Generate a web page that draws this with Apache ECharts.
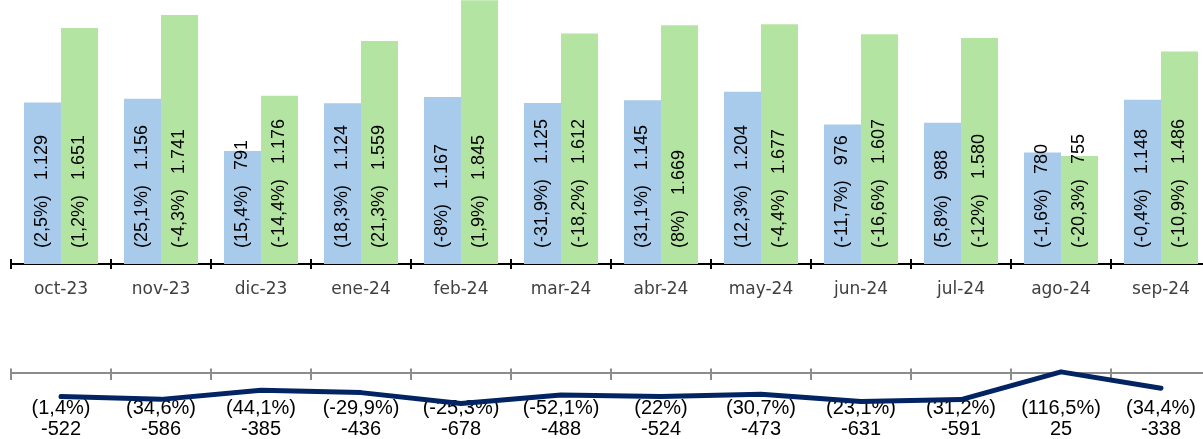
<!DOCTYPE html>
<html>
<head>
<meta charset="utf-8">
<script src="https://cdn.jsdelivr.net/npm/echarts@6/dist/echarts.min.js"></script>
<style>
html,body{margin:0;padding:0;background:#fff;}
#main{width:1203px;height:439px;}
</style>
</head>
<body>
<div id="main"></div>
<script>
const categories = ['oct-23','nov-23','dic-23','ene-24','feb-24','mar-24','abr-24','may-24','jun-24','jul-24','ago-24','sep-24'];
const blueValues = [1129,1156,791,1124,1167,1125,1145,1204,976,988,780,1148];
const bluePct = ['2,5%','25,1%','15,4%','18,3%','-8%','-31,9%','31,1%','12,3%','-11,7%','5,8%','-1,6%','-0,4%'];
const greenValues = [1651,1741,1176,1559,1845,1612,1669,1677,1607,1580,755,1486];
const greenPct = ['1,2%','-4,3%','-14,4%','21,3%','1,9%','-18,2%','8%','-4,4%','-16,6%','-12%','-20,3%','-10,9%'];
const diffValues = [-522,-586,-385,-436,-678,-488,-524,-473,-631,-591,25,-338];
const diffPct = ['1,4%','34,6%','44,1%','-29,9%','-25,3%','-52,1%','22%','30,7%','23,1%','31,2%','116,5%','34,4%'];

function fmt(v){
  const s = String(Math.abs(v)).replace(/\B(?=(\d{3})+(?!\d))/g,'.');
  return (v < 0 ? '-' : '') + s;
}
const diffLabels = categories.map((c,i) => '(' + diffPct[i] + ')\n' + fmt(diffValues[i]));

const chart = echarts.init(document.getElementById('main'), null, {renderer:'canvas'});

function barLabel(pcts){
  return {
    show: true,
    position: 'insideBottom',
    rotate: 90,
    align: 'left',
    verticalAlign: 'middle',
    distance: 16,
    fontFamily: 'Liberation Sans',
    fontSize: 18,
    color: '#000',
    formatter: p => '(' + pcts[p.dataIndex] + ')   ' + fmt(p.value)
  };
}

const option = {
  animation: false,
  backgroundColor: '#fff',
  grid: [
    {left: 11, width: 1200, top: 0, height: 264, outerBoundsMode: 'none', containLabel: false},
    {left: 11, width: 1200, top: 368.5, height: 40.5, outerBoundsMode: 'none', containLabel: false}
  ],
  xAxis: [
    {
      gridIndex: 0, type: 'category', data: categories, boundaryGap: true,
      axisLine: {show: true, lineStyle: {color: '#000', width: 2}},
      axisTick: {show: true, inside: false, length: 5, lineStyle: {color: '#000', width: 2}},
      axisLabel: {show: true, margin: 17, fontFamily: 'DejaVu Sans', fontSize: 17, color: '#404040'}
    },
    {
      gridIndex: 0, type: 'category', data: categories, boundaryGap: true, position: 'bottom',
      axisLine: {show: false},
      axisTick: {show: true, inside: true, length: 5, lineStyle: {color: '#000', width: 2}},
      axisLabel: {show: false}
    },
    {
      gridIndex: 1, type: 'category', data: categories, boundaryGap: true,
      axisLine: {show: true, onZero: true, lineStyle: {color: '#8c8c8c', width: 2}},
      axisTick: {show: true, inside: false, length: 7, lineStyle: {color: '#8c8c8c', width: 2}},
      axisLabel: {show: false}
    },
    {
      gridIndex: 1, type: 'category', data: categories, boundaryGap: true,
      axisLine: {show: true, onZero: true, lineStyle: {color: 'transparent', width: 0}},
      axisTick: {show: true, inside: true, length: 7, lineStyle: {color: '#8c8c8c', width: 2}},
      axisLabel: {show: false}
    },
    {
      gridIndex: 1, type: 'category', data: diffLabels, boundaryGap: true, position: 'bottom',
      offset: -11,
      axisLine: {show: false, onZero: false},
      axisTick: {show: false},
      axisLabel: {show: true, margin: 0, fontFamily: 'Liberation Sans', fontSize: 20, lineHeight: 21, color: '#000', interval: 0}
    }
  ],
  yAxis: [
    {gridIndex: 0, type: 'value', min: 0, max: 1846, show: false, splitLine: {show: false}},
    {gridIndex: 1, type: 'value', min: -800, max: 100, show: false, splitLine: {show: false}}
  ],
  series: [
    {
      type: 'bar', xAxisIndex: 0, yAxisIndex: 0, data: blueValues,
      barWidth: 37, barGap: '0%',
      itemStyle: {color: '#a8caeb'},
      label: barLabel(bluePct)
    },
    {
      type: 'bar', xAxisIndex: 0, yAxisIndex: 0, data: greenValues,
      barWidth: 37, barGap: '0%',
      itemStyle: {color: '#b4e4a2'},
      label: barLabel(greenPct)
    },
    {
      type: 'line', xAxisIndex: 2, yAxisIndex: 1, data: diffValues,
      symbol: 'none', smooth: false, clip: false, z: 5,
      lineStyle: {color: '#022463', width: 5, cap: 'round', join: 'round'}
    }
  ]
};
chart.setOption(option);
</script>
</body>
</html>
